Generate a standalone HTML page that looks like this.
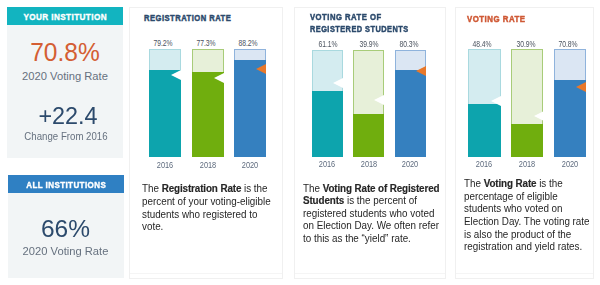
<!DOCTYPE html>
<html><head><meta charset="utf-8"><style>
html,body{margin:0;padding:0;width:600px;height:285px;overflow:hidden;background:#ffffff;}
body{position:relative;font-family:"Liberation Sans", sans-serif;}
.t{position:absolute;white-space:nowrap;}
.r{position:absolute;}
b{font-weight:bold;letter-spacing:-0.12px;-webkit-text-stroke:0.15px #262626;}
</style></head><body><div id="w" style="position:absolute;left:0;top:0;width:600px;height:285px;filter:blur(0.5px);">
<div class="r" style="left:7px;top:7px;width:116px;height:18px;background:#12b4c0;"></div>
<div class="r" style="left:7px;top:25px;width:116px;height:132.8px;background:#f2f5f6;"></div>
<div class="t" style="left:0.00px;width:130px;text-align:center;top:11.41px;font-size:9.6px;line-height:11.52px;color:#ffffff;font-weight:bold;transform:scaleX(0.846);transform-origin:center 50%;letter-spacing:0.5px;text-indent:0.5px;-webkit-text-stroke:0.4px #fff;">YOUR INSTITUTION</div>
<div class="t" style="left:7.40px;width:116px;text-align:center;top:36.72px;font-size:26.5px;line-height:31.8px;color:#d45e33;font-weight:normal;transform:scaleX(0.925);transform-origin:center 50%;">70.8%</div>
<div class="t" style="left:7.00px;width:116px;text-align:center;top:70.40px;font-size:11.2px;line-height:13.44px;color:#66717f;font-weight:normal;">2020 Voting Rate</div>
<div class="t" style="left:10.15px;width:116px;text-align:center;top:101.98px;font-size:24px;line-height:28.8px;color:#2c4a6c;font-weight:normal;transform:scaleX(0.975);transform-origin:center 50%;">+22.4</div>
<div class="t" style="left:7.70px;width:116px;text-align:center;top:130.06px;font-size:10.5px;line-height:12.6px;color:#66717f;font-weight:normal;transform:scaleX(0.92);transform-origin:center 50%;">Change From 2016</div>
<div class="r" style="left:7.5px;top:175px;width:116.5px;height:18px;background:#2f80c3;"></div>
<div class="r" style="left:7.5px;top:193px;width:116.5px;height:84.5px;background:#f2f5f6;"></div>
<div class="t" style="left:0.75px;width:130px;text-align:center;top:178.81px;font-size:9.6px;line-height:11.52px;color:#ffffff;font-weight:bold;transform:scaleX(0.835);transform-origin:center 50%;letter-spacing:0.5px;text-indent:0.5px;-webkit-text-stroke:0.4px #fff;">ALL INSTITUTIONS</div>
<div class="t" style="left:7.50px;width:116px;text-align:center;top:214.31px;font-size:24.5px;line-height:29.4px;color:#2c4a6c;font-weight:normal;">66%</div>
<div class="t" style="left:7.50px;width:116px;text-align:center;top:245.40px;font-size:11.2px;line-height:13.44px;color:#66717f;font-weight:normal;">2020 Voting Rate</div>
<div class="r" style="left:129.2px;top:6.8px;width:153.8px;height:272px;border:1px solid #f0f0f0;box-sizing:border-box;background:#fff"></div>
<div class="r" style="left:130.2px;top:273px;width:151.8px;height:1px;background:#f5f5f5;"></div>
<div class="t" style="left:144.2px;top:11.51px;font-size:9.5px;line-height:11.4px;color:#2c4a6c;font-weight:bold;transform:scaleX(0.8);transform-origin:left 50%;letter-spacing:0.6px;-webkit-text-stroke:0.5px #2c4a6c;">REGISTRATION RATE</div>
<div class="r" style="left:149.2px;top:49.1px;width:31.6px;height:108.4px;background:#d4ecf0;box-sizing:border-box;border:1px solid #a9d9df;"></div>
<div class="r" style="left:149.2px;top:70.3px;width:31.6px;height:87.2px;background:#0da4ad;"></div>
<svg class="r" style="left:170.79999999999998px;top:70.3px;width:10px;height:10px" viewBox="0 0 10 10"><path d="M10 0 L0 5.0 L10 10 Z" fill="#ffffff"/></svg>
<div class="t" style="left:143.30px;width:40px;text-align:center;top:37.55px;font-size:8.4px;line-height:10.08px;color:#4a525e;font-weight:normal;transform:scaleX(0.81);transform-origin:center 50%;">79.2%</div>
<div class="t" style="left:145.00px;width:40px;text-align:center;top:159.86px;font-size:8.6px;line-height:10.32px;color:#5d6a7d;font-weight:normal;transform:scaleX(0.86);transform-origin:center 50%;">2016</div>
<div class="r" style="left:192px;top:49.1px;width:31.6px;height:108.4px;background:#e7f0d9;box-sizing:border-box;border:1px solid #a8cc79;"></div>
<div class="r" style="left:192px;top:72.2px;width:31.6px;height:85.3px;background:#70ae0e;"></div>
<svg class="r" style="left:213.6px;top:72.7px;width:10px;height:10px" viewBox="0 0 10 10"><path d="M10 0 L0 5.0 L10 10 Z" fill="#ffffff"/></svg>
<div class="t" style="left:185.80px;width:40px;text-align:center;top:37.55px;font-size:8.4px;line-height:10.08px;color:#4a525e;font-weight:normal;transform:scaleX(0.81);transform-origin:center 50%;">77.3%</div>
<div class="t" style="left:187.80px;width:40px;text-align:center;top:159.86px;font-size:8.6px;line-height:10.32px;color:#5d6a7d;font-weight:normal;transform:scaleX(0.86);transform-origin:center 50%;">2018</div>
<div class="r" style="left:234.3px;top:49.1px;width:31.6px;height:108.4px;background:#dbe6f3;box-sizing:border-box;border:1px solid #8fb3dc;"></div>
<div class="r" style="left:234.3px;top:60.4px;width:31.6px;height:97.1px;background:#3580bf;"></div>
<svg class="r" style="left:255.90000000000003px;top:63.8px;width:10px;height:10px" viewBox="0 0 10 10"><path d="M10 0 L0 5.0 L10 10 Z" fill="#e8782a"/></svg>
<div class="t" style="left:227.60px;width:40px;text-align:center;top:37.55px;font-size:8.4px;line-height:10.08px;color:#4a525e;font-weight:normal;transform:scaleX(0.81);transform-origin:center 50%;">88.2%</div>
<div class="t" style="left:230.10px;width:40px;text-align:center;top:159.86px;font-size:8.6px;line-height:10.32px;color:#5d6a7d;font-weight:normal;transform:scaleX(0.86);transform-origin:center 50%;">2020</div>
<div class="t" style="left:141.7px;top:182.94px;font-size:10px;line-height:12.0px;color:#262626;font-weight:normal;transform:scaleX(0.985);transform-origin:left 50%;">The <b>Registration Rate</b> is the</div>
<div class="t" style="left:141.7px;top:195.74px;font-size:10px;line-height:12.0px;color:#262626;font-weight:normal;transform:scaleX(0.985);transform-origin:left 50%;">percent of your voting-eligible</div>
<div class="t" style="left:141.7px;top:208.53px;font-size:10px;line-height:12.0px;color:#262626;font-weight:normal;transform:scaleX(0.985);transform-origin:left 50%;">students who registered to</div>
<div class="t" style="left:141.7px;top:221.34px;font-size:10px;line-height:12.0px;color:#262626;font-weight:normal;transform:scaleX(0.985);transform-origin:left 50%;">vote.</div>
<div class="r" style="left:293.5px;top:6.8px;width:152.0px;height:272px;border:1px solid #f0f0f0;box-sizing:border-box;background:#fff"></div>
<div class="r" style="left:294.5px;top:273px;width:150.0px;height:1px;background:#f5f5f5;"></div>
<div class="t" style="left:310.0px;top:11.41px;font-size:9.5px;line-height:11.4px;color:#2c4a6c;font-weight:bold;transform:scaleX(0.81);transform-origin:left 50%;letter-spacing:0.6px;-webkit-text-stroke:0.5px #2c4a6c;">VOTING RATE OF</div>
<div class="t" style="left:310.0px;top:22.71px;font-size:9.5px;line-height:11.4px;color:#2c4a6c;font-weight:bold;transform:scaleX(0.776);transform-origin:left 50%;letter-spacing:0.6px;-webkit-text-stroke:0.5px #2c4a6c;">REGISTERED STUDENTS</div>
<div class="r" style="left:311.8px;top:49.6px;width:31.2px;height:107.20000000000002px;background:#d4ecf0;box-sizing:border-box;border:1px solid #a9d9df;"></div>
<div class="r" style="left:311.8px;top:90.7px;width:31.2px;height:66.10000000000001px;background:#0da4ad;"></div>
<svg class="r" style="left:333.0px;top:78.3px;width:10px;height:10px" viewBox="0 0 10 10"><path d="M10 0 L0 5.0 L10 10 Z" fill="#ffffff"/></svg>
<div class="t" style="left:307.60px;width:40px;text-align:center;top:38.75px;font-size:8.4px;line-height:10.08px;color:#4a525e;font-weight:normal;transform:scaleX(0.81);transform-origin:center 50%;">61.1%</div>
<div class="t" style="left:307.40px;width:40px;text-align:center;top:159.46px;font-size:8.6px;line-height:10.32px;color:#5d6a7d;font-weight:normal;transform:scaleX(0.86);transform-origin:center 50%;">2016</div>
<div class="r" style="left:353px;top:49.6px;width:31.2px;height:107.20000000000002px;background:#e7f0d9;box-sizing:border-box;border:1px solid #a8cc79;"></div>
<div class="r" style="left:353px;top:113.6px;width:31.2px;height:43.20000000000002px;background:#70ae0e;"></div>
<svg class="r" style="left:374.2px;top:94.8px;width:10px;height:10px" viewBox="0 0 10 10"><path d="M10 0 L0 5.0 L10 10 Z" fill="#ffffff"/></svg>
<div class="t" style="left:349.20px;width:40px;text-align:center;top:38.75px;font-size:8.4px;line-height:10.08px;color:#4a525e;font-weight:normal;transform:scaleX(0.81);transform-origin:center 50%;">39.9%</div>
<div class="t" style="left:348.60px;width:40px;text-align:center;top:159.46px;font-size:8.6px;line-height:10.32px;color:#5d6a7d;font-weight:normal;transform:scaleX(0.86);transform-origin:center 50%;">2018</div>
<div class="r" style="left:394.8px;top:49.6px;width:31.2px;height:107.20000000000002px;background:#dbe6f3;box-sizing:border-box;border:1px solid #8fb3dc;"></div>
<div class="r" style="left:394.8px;top:69.8px;width:31.2px;height:87.00000000000001px;background:#3580bf;"></div>
<svg class="r" style="left:416.0px;top:66.0px;width:10px;height:10px" viewBox="0 0 10 10"><path d="M10 0 L0 5.0 L10 10 Z" fill="#e8782a"/></svg>
<div class="t" style="left:389.00px;width:40px;text-align:center;top:38.75px;font-size:8.4px;line-height:10.08px;color:#4a525e;font-weight:normal;transform:scaleX(0.81);transform-origin:center 50%;">80.3%</div>
<div class="t" style="left:390.40px;width:40px;text-align:center;top:159.46px;font-size:8.6px;line-height:10.32px;color:#5d6a7d;font-weight:normal;transform:scaleX(0.86);transform-origin:center 50%;">2020</div>
<div class="t" style="left:302.9px;top:182.63px;font-size:10px;line-height:12.0px;color:#262626;font-weight:normal;transform:scaleX(0.985);transform-origin:left 50%;">The <b>Voting Rate of Registered</b></div>
<div class="t" style="left:302.9px;top:195.23px;font-size:10px;line-height:12.0px;color:#262626;font-weight:normal;transform:scaleX(0.985);transform-origin:left 50%;"><b>Students</b> is the percent of</div>
<div class="t" style="left:302.9px;top:207.83px;font-size:10px;line-height:12.0px;color:#262626;font-weight:normal;transform:scaleX(0.985);transform-origin:left 50%;">registered students who voted</div>
<div class="t" style="left:302.9px;top:220.43px;font-size:10px;line-height:12.0px;color:#262626;font-weight:normal;transform:scaleX(0.985);transform-origin:left 50%;">on Election Day. We often refer</div>
<div class="t" style="left:302.9px;top:233.03px;font-size:10px;line-height:12.0px;color:#262626;font-weight:normal;transform:scaleX(0.985);transform-origin:left 50%;">to this as the “yield” rate.</div>
<div class="r" style="left:454.5px;top:6.8px;width:139.5px;height:272px;border:1px solid #f0f0f0;box-sizing:border-box;background:#fff"></div>
<div class="r" style="left:455.5px;top:273px;width:137.5px;height:1px;background:#f5f5f5;"></div>
<div class="t" style="left:467.0px;top:12.71px;font-size:9.5px;line-height:11.4px;color:#cf5834;font-weight:bold;transform:scaleX(0.826);transform-origin:left 50%;letter-spacing:0.6px;-webkit-text-stroke:0.5px #cf5834;">VOTING RATE</div>
<div class="r" style="left:468.25px;top:49.2px;width:32.3px;height:107.60000000000001px;background:#d4ecf0;box-sizing:border-box;border:1px solid #a9d9df;"></div>
<div class="r" style="left:468.25px;top:104px;width:32.3px;height:52.80000000000001px;background:#0da4ad;"></div>
<svg class="r" style="left:490.55px;top:96.3px;width:10px;height:10px" viewBox="0 0 10 10"><path d="M10 0 L0 5.0 L10 10 Z" fill="#ffffff"/></svg>
<div class="t" style="left:462.20px;width:40px;text-align:center;top:38.75px;font-size:8.4px;line-height:10.08px;color:#4a525e;font-weight:normal;transform:scaleX(0.81);transform-origin:center 50%;">48.4%</div>
<div class="t" style="left:464.40px;width:40px;text-align:center;top:158.96px;font-size:8.6px;line-height:10.32px;color:#5d6a7d;font-weight:normal;transform:scaleX(0.86);transform-origin:center 50%;">2016</div>
<div class="r" style="left:511.2px;top:49.2px;width:32.3px;height:107.60000000000001px;background:#e7f0d9;box-sizing:border-box;border:1px solid #a8cc79;"></div>
<div class="r" style="left:511.2px;top:123.6px;width:32.3px;height:33.20000000000002px;background:#70ae0e;"></div>
<svg class="r" style="left:533.5px;top:111.4px;width:10px;height:10px" viewBox="0 0 10 10"><path d="M10 0 L0 5.0 L10 10 Z" fill="#ffffff"/></svg>
<div class="t" style="left:505.85px;width:40px;text-align:center;top:38.75px;font-size:8.4px;line-height:10.08px;color:#4a525e;font-weight:normal;transform:scaleX(0.81);transform-origin:center 50%;">30.9%</div>
<div class="t" style="left:507.35px;width:40px;text-align:center;top:158.96px;font-size:8.6px;line-height:10.32px;color:#5d6a7d;font-weight:normal;transform:scaleX(0.86);transform-origin:center 50%;">2018</div>
<div class="r" style="left:553.8px;top:49.2px;width:32.3px;height:107.60000000000001px;background:#dbe6f3;box-sizing:border-box;border:1px solid #8fb3dc;"></div>
<div class="r" style="left:553.8px;top:80.3px;width:32.3px;height:76.50000000000001px;background:#3580bf;"></div>
<svg class="r" style="left:576.0999999999999px;top:81.7px;width:10px;height:10px" viewBox="0 0 10 10"><path d="M10 0 L0 5.0 L10 10 Z" fill="#e8782a"/></svg>
<div class="t" style="left:548.25px;width:40px;text-align:center;top:38.75px;font-size:8.4px;line-height:10.08px;color:#4a525e;font-weight:normal;transform:scaleX(0.81);transform-origin:center 50%;">70.8%</div>
<div class="t" style="left:549.95px;width:40px;text-align:center;top:158.96px;font-size:8.6px;line-height:10.32px;color:#5d6a7d;font-weight:normal;transform:scaleX(0.86);transform-origin:center 50%;">2020</div>
<div class="t" style="left:463.8px;top:178.23px;font-size:10px;line-height:12.0px;color:#262626;font-weight:normal;transform:scaleX(0.985);transform-origin:left 50%;">The <b>Voting Rate</b> is the</div>
<div class="t" style="left:463.8px;top:190.83px;font-size:10px;line-height:12.0px;color:#262626;font-weight:normal;transform:scaleX(0.985);transform-origin:left 50%;">percentage of eligible</div>
<div class="t" style="left:463.8px;top:203.43px;font-size:10px;line-height:12.0px;color:#262626;font-weight:normal;transform:scaleX(0.985);transform-origin:left 50%;">students who voted on</div>
<div class="t" style="left:463.8px;top:216.03px;font-size:10px;line-height:12.0px;color:#262626;font-weight:normal;transform:scaleX(0.985);transform-origin:left 50%;">Election Day. The voting rate</div>
<div class="t" style="left:463.8px;top:228.63px;font-size:10px;line-height:12.0px;color:#262626;font-weight:normal;transform:scaleX(0.985);transform-origin:left 50%;">is also the product of the</div>
<div class="t" style="left:463.8px;top:241.23px;font-size:10px;line-height:12.0px;color:#262626;font-weight:normal;transform:scaleX(0.985);transform-origin:left 50%;">registration and yield rates.</div>
</div></body></html>
